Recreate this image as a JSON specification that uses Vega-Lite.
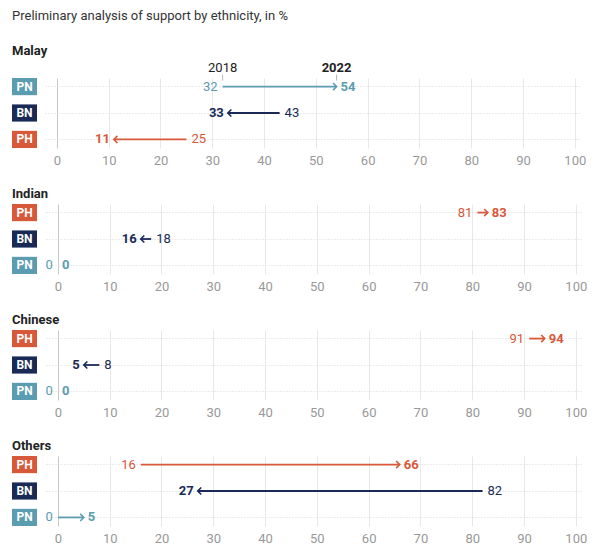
{
  "$schema": "https://vega.github.io/schema/vega-lite/v6.json",
  "padding": {"left": 12, "top": 9, "right": 5, "bottom": 5},
  "title": {"text": "Preliminary analysis of support by ethnicity, in %", "anchor": "start", "fontSize": 13, "fontWeight": "normal", "color": "#333", "offset": 22},
  "config": {
    "font": "Roboto",
    "view": {"stroke": null},
    "concat": {"spacing": 21},
    "title": {"font": "Roboto"},
    "text": {"font": "Roboto", "fontSize": 13}
  },
  "datasets": {
    "support": [
      {"eth": "Malay", "party": "PN", "y2018": 32, "y2022": 54},
      {"eth": "Malay", "party": "BN", "y2018": 43, "y2022": 33},
      {"eth": "Malay", "party": "PH", "y2018": 25, "y2022": 11},
      {"eth": "Indian", "party": "PH", "y2018": 81, "y2022": 83},
      {"eth": "Indian", "party": "BN", "y2018": 18, "y2022": 16},
      {"eth": "Indian", "party": "PN", "y2018": 0, "y2022": 0},
      {"eth": "Chinese", "party": "PH", "y2018": 91, "y2022": 94},
      {"eth": "Chinese", "party": "BN", "y2018": 8, "y2022": 5},
      {"eth": "Chinese", "party": "PN", "y2018": 0, "y2022": 0},
      {"eth": "Others", "party": "PH", "y2018": 16, "y2022": 66},
      {"eth": "Others", "party": "BN", "y2018": 82, "y2022": 27},
      {"eth": "Others", "party": "PN", "y2018": 0, "y2022": 5}
    ]
  },
  "data": {"name": "support"},
  "resolve": {"scale": {"y": "independent", "x": "independent"}},
  "vconcat": [
    {
      "title": {"text": "Malay", "anchor": "start", "fontSize": 13, "fontWeight": "bold", "color": "#222", "offset": 4},
      "transform": [{"filter": "datum.eth === 'Malay'"}],
      "spacing": 8,
      "hconcat": [
        {
          "width": 25, "height": 70,
          "layer": [
            {"mark": {"type": "rect"}, "encoding": {"y": {"field": "party", "type": "nominal", "sort": ["PN", "BN", "PH"], "axis": null, "scale": {"paddingInner": 0.35, "paddingOuter": 0}}, "color": {"field": "party", "type": "nominal", "scale": {"domain": ["PN", "BN", "PH"], "range": ["#5b9cb0", "#1a2a57", "#d8583a"]}, "legend": null}}},
            {"mark": {"type": "text", "color": "white", "fontWeight": "bold", "fontSize": 12}, "encoding": {"y": {"field": "party", "type": "nominal", "sort": ["PN", "BN", "PH"]}, "text": {"field": "party"}}}
          ]
        },
        {
          "width": 536, "height": 70,
          "encoding": {
            "y": {"field": "party", "type": "nominal", "sort": ["PN", "BN", "PH"], "scale": {"paddingInner": 0.35, "paddingOuter": 0}, "axis": {"title": null, "labels": false, "ticks": false, "domain": false, "grid": true, "gridDash": [1, 2], "gridColor": "#d8d8d8", "bandPosition": 0.5}},
            "color": {"field": "party", "type": "nominal", "scale": {"domain": ["PN", "BN", "PH"], "range": ["#5b9cb0", "#1a2a57", "#d8583a"]}, "legend": null}
          },
          "layer": [
            {"transform": [{"filter": "datum.y2018 !== datum.y2022"}], "mark": {"type": "rule", "strokeWidth": 1.8}, "encoding": {"x": {"field": "y2018", "type": "quantitative", "scale": {"domain": [-2.3, 101.2], "nice": false, "zero": false}, "axis": {"title": null, "values": [0, 10, 20, 30, 40, 50, 60, 70, 80, 90, 100], "grid": true, "gridColor": {"condition": {"test": "datum.value === 0", "value": "#c8c8c8"}, "value": "#e8e8e8"}, "domain": false, "ticks": false, "labelColor": "#999", "labelFontSize": 13, "labelPadding": 6, "labelFont": "Roboto"}}, "x2": {"field": "y2022"}}},
            {"transform": [{"filter": "datum.y2018 !== datum.y2022"}], "mark": {"type": "point", "filled": false, "strokeWidth": 1.6, "size": 50, "opacity": 1}, "encoding": {"x": {"field": "y2022", "type": "quantitative"}, "shape": {"condition": {"test": "datum.y2022 > datum.y2018", "value": "M-1,-1L0,0L-1,1"}, "value": "M1,-1L0,0L1,1"}}},
            {"transform": [{"filter": "datum.y2022 >= datum.y2018"}], "mark": {"type": "text", "align": "right", "dx": -5}, "encoding": {"x": {"field": "y2018", "type": "quantitative"}, "text": {"field": "y2018"}}},
            {"transform": [{"filter": "datum.y2022 < datum.y2018"}], "mark": {"type": "text", "align": "left", "dx": 5}, "encoding": {"x": {"field": "y2018", "type": "quantitative"}, "text": {"field": "y2018"}}},
            {"transform": [{"filter": "datum.y2022 >= datum.y2018"}], "mark": {"type": "text", "align": "left", "dx": 4, "fontWeight": "bold"}, "encoding": {"x": {"field": "y2022", "type": "quantitative"}, "text": {"field": "y2022"}}},
            {"transform": [{"filter": "datum.y2022 < datum.y2018"}], "mark": {"type": "text", "align": "right", "dx": -4, "fontWeight": "bold"}, "encoding": {"x": {"field": "y2022", "type": "quantitative"}, "text": {"field": "y2022"}}},
            {"transform": [{"filter": "datum.party === 'PN'"}], "mark": {"type": "text", "dy": -19, "color": "#222"}, "encoding": {"x": {"field": "y2018", "type": "quantitative"}, "text": {"value": "2018"}, "color": {"value": "#222"}}},
            {"transform": [{"filter": "datum.party === 'PN'"}], "mark": {"type": "text", "dy": -19, "fontWeight": "bold"}, "encoding": {"x": {"field": "y2022", "type": "quantitative"}, "text": {"value": "2022"}, "color": {"value": "#222"}}},
            {"transform": [{"filter": "datum.party === 'PN'"}], "mark": {"type": "tick", "orient": "vertical", "size": 6, "thickness": 1, "yOffset": -9}, "encoding": {"x": {"field": "y2018", "type": "quantitative"}, "color": {"value": "#999"}}},
            {"transform": [{"filter": "datum.party === 'PN'"}], "mark": {"type": "tick", "orient": "vertical", "size": 6, "thickness": 1, "yOffset": -9}, "encoding": {"x": {"field": "y2022", "type": "quantitative"}, "color": {"value": "#999"}}}
          ]
        }
      ]
    },
    {
      "title": {"text": "Indian", "anchor": "start", "fontSize": 13, "fontWeight": "bold", "color": "#222", "offset": 3},
      "transform": [{"filter": "datum.eth === 'Indian'"}],
      "spacing": 8,
      "hconcat": [
        {
          "width": 25, "height": 70,
          "layer": [
            {"mark": {"type": "rect"}, "encoding": {"y": {"field": "party", "type": "nominal", "sort": ["PH", "BN", "PN"], "axis": null, "scale": {"paddingInner": 0.35, "paddingOuter": 0}}, "color": {"field": "party", "type": "nominal", "scale": {"domain": ["PN", "BN", "PH"], "range": ["#5b9cb0", "#1a2a57", "#d8583a"]}, "legend": null}}},
            {"mark": {"type": "text", "color": "white", "fontWeight": "bold", "fontSize": 12}, "encoding": {"y": {"field": "party", "type": "nominal", "sort": ["PH", "BN", "PN"]}, "text": {"field": "party"}}}
          ]
        },
        {
          "width": 536, "height": 70,
          "encoding": {
            "y": {"field": "party", "type": "nominal", "sort": ["PH", "BN", "PN"], "scale": {"paddingInner": 0.35, "paddingOuter": 0}, "axis": {"title": null, "labels": false, "ticks": false, "domain": false, "grid": true, "gridDash": [1, 2], "gridColor": "#d8d8d8", "bandPosition": 0.5}},
            "color": {"field": "party", "type": "nominal", "scale": {"domain": ["PN", "BN", "PH"], "range": ["#5b9cb0", "#1a2a57", "#d8583a"]}, "legend": null}
          },
          "layer": [
            {"transform": [{"filter": "datum.y2018 !== datum.y2022"}], "mark": {"type": "rule", "strokeWidth": 1.8}, "encoding": {"x": {"field": "y2018", "type": "quantitative", "scale": {"domain": [-2.3, 101.2], "nice": false, "zero": false}, "axis": {"title": null, "values": [0, 10, 20, 30, 40, 50, 60, 70, 80, 90, 100], "grid": true, "gridColor": {"condition": {"test": "datum.value === 0", "value": "#c8c8c8"}, "value": "#e8e8e8"}, "domain": false, "ticks": false, "labelColor": "#999", "labelFontSize": 13, "labelPadding": 6, "labelFont": "Roboto"}}, "x2": {"field": "y2022"}}},
            {"transform": [{"filter": "datum.y2018 !== datum.y2022"}], "mark": {"type": "point", "filled": false, "strokeWidth": 1.6, "size": 50, "opacity": 1}, "encoding": {"x": {"field": "y2022", "type": "quantitative"}, "shape": {"condition": {"test": "datum.y2022 > datum.y2018", "value": "M-1,-1L0,0L-1,1"}, "value": "M1,-1L0,0L1,1"}}},
            {"transform": [{"filter": "datum.y2022 >= datum.y2018"}], "mark": {"type": "text", "align": "right", "dx": -5}, "encoding": {"x": {"field": "y2018", "type": "quantitative"}, "text": {"field": "y2018"}}},
            {"transform": [{"filter": "datum.y2022 < datum.y2018"}], "mark": {"type": "text", "align": "left", "dx": 5}, "encoding": {"x": {"field": "y2018", "type": "quantitative"}, "text": {"field": "y2018"}}},
            {"transform": [{"filter": "datum.y2022 >= datum.y2018"}], "mark": {"type": "text", "align": "left", "dx": 4, "fontWeight": "bold"}, "encoding": {"x": {"field": "y2022", "type": "quantitative"}, "text": {"field": "y2022"}}},
            {"transform": [{"filter": "datum.y2022 < datum.y2018"}], "mark": {"type": "text", "align": "right", "dx": -4, "fontWeight": "bold"}, "encoding": {"x": {"field": "y2022", "type": "quantitative"}, "text": {"field": "y2022"}}}
          ]
        }
      ]
    },
    {
      "title": {"text": "Chinese", "anchor": "start", "fontSize": 13, "fontWeight": "bold", "color": "#222", "offset": 3},
      "transform": [{"filter": "datum.eth === 'Chinese'"}],
      "spacing": 8,
      "hconcat": [
        {
          "width": 25, "height": 70,
          "layer": [
            {"mark": {"type": "rect"}, "encoding": {"y": {"field": "party", "type": "nominal", "sort": ["PH", "BN", "PN"], "axis": null, "scale": {"paddingInner": 0.35, "paddingOuter": 0}}, "color": {"field": "party", "type": "nominal", "scale": {"domain": ["PN", "BN", "PH"], "range": ["#5b9cb0", "#1a2a57", "#d8583a"]}, "legend": null}}},
            {"mark": {"type": "text", "color": "white", "fontWeight": "bold", "fontSize": 12}, "encoding": {"y": {"field": "party", "type": "nominal", "sort": ["PH", "BN", "PN"]}, "text": {"field": "party"}}}
          ]
        },
        {
          "width": 536, "height": 70,
          "encoding": {
            "y": {"field": "party", "type": "nominal", "sort": ["PH", "BN", "PN"], "scale": {"paddingInner": 0.35, "paddingOuter": 0}, "axis": {"title": null, "labels": false, "ticks": false, "domain": false, "grid": true, "gridDash": [1, 2], "gridColor": "#d8d8d8", "bandPosition": 0.5}},
            "color": {"field": "party", "type": "nominal", "scale": {"domain": ["PN", "BN", "PH"], "range": ["#5b9cb0", "#1a2a57", "#d8583a"]}, "legend": null}
          },
          "layer": [
            {"transform": [{"filter": "datum.y2018 !== datum.y2022"}], "mark": {"type": "rule", "strokeWidth": 1.8}, "encoding": {"x": {"field": "y2018", "type": "quantitative", "scale": {"domain": [-2.3, 101.2], "nice": false, "zero": false}, "axis": {"title": null, "values": [0, 10, 20, 30, 40, 50, 60, 70, 80, 90, 100], "grid": true, "gridColor": {"condition": {"test": "datum.value === 0", "value": "#c8c8c8"}, "value": "#e8e8e8"}, "domain": false, "ticks": false, "labelColor": "#999", "labelFontSize": 13, "labelPadding": 6, "labelFont": "Roboto"}}, "x2": {"field": "y2022"}}},
            {"transform": [{"filter": "datum.y2018 !== datum.y2022"}], "mark": {"type": "point", "filled": false, "strokeWidth": 1.6, "size": 50, "opacity": 1}, "encoding": {"x": {"field": "y2022", "type": "quantitative"}, "shape": {"condition": {"test": "datum.y2022 > datum.y2018", "value": "M-1,-1L0,0L-1,1"}, "value": "M1,-1L0,0L1,1"}}},
            {"transform": [{"filter": "datum.y2022 >= datum.y2018"}], "mark": {"type": "text", "align": "right", "dx": -5}, "encoding": {"x": {"field": "y2018", "type": "quantitative"}, "text": {"field": "y2018"}}},
            {"transform": [{"filter": "datum.y2022 < datum.y2018"}], "mark": {"type": "text", "align": "left", "dx": 5}, "encoding": {"x": {"field": "y2018", "type": "quantitative"}, "text": {"field": "y2018"}}},
            {"transform": [{"filter": "datum.y2022 >= datum.y2018"}], "mark": {"type": "text", "align": "left", "dx": 4, "fontWeight": "bold"}, "encoding": {"x": {"field": "y2022", "type": "quantitative"}, "text": {"field": "y2022"}}},
            {"transform": [{"filter": "datum.y2022 < datum.y2018"}], "mark": {"type": "text", "align": "right", "dx": -4, "fontWeight": "bold"}, "encoding": {"x": {"field": "y2022", "type": "quantitative"}, "text": {"field": "y2022"}}}
          ]
        }
      ]
    },
    {
      "title": {"text": "Others", "anchor": "start", "fontSize": 13, "fontWeight": "bold", "color": "#222", "offset": 3},
      "transform": [{"filter": "datum.eth === 'Others'"}],
      "spacing": 8,
      "hconcat": [
        {
          "width": 25, "height": 70,
          "layer": [
            {"mark": {"type": "rect"}, "encoding": {"y": {"field": "party", "type": "nominal", "sort": ["PH", "BN", "PN"], "axis": null, "scale": {"paddingInner": 0.35, "paddingOuter": 0}}, "color": {"field": "party", "type": "nominal", "scale": {"domain": ["PN", "BN", "PH"], "range": ["#5b9cb0", "#1a2a57", "#d8583a"]}, "legend": null}}},
            {"mark": {"type": "text", "color": "white", "fontWeight": "bold", "fontSize": 12}, "encoding": {"y": {"field": "party", "type": "nominal", "sort": ["PH", "BN", "PN"]}, "text": {"field": "party"}}}
          ]
        },
        {
          "width": 536, "height": 70,
          "encoding": {
            "y": {"field": "party", "type": "nominal", "sort": ["PH", "BN", "PN"], "scale": {"paddingInner": 0.35, "paddingOuter": 0}, "axis": {"title": null, "labels": false, "ticks": false, "domain": false, "grid": true, "gridDash": [1, 2], "gridColor": "#d8d8d8", "bandPosition": 0.5}},
            "color": {"field": "party", "type": "nominal", "scale": {"domain": ["PN", "BN", "PH"], "range": ["#5b9cb0", "#1a2a57", "#d8583a"]}, "legend": null}
          },
          "layer": [
            {"transform": [{"filter": "datum.y2018 !== datum.y2022"}], "mark": {"type": "rule", "strokeWidth": 1.8}, "encoding": {"x": {"field": "y2018", "type": "quantitative", "scale": {"domain": [-2.3, 101.2], "nice": false, "zero": false}, "axis": {"title": null, "values": [0, 10, 20, 30, 40, 50, 60, 70, 80, 90, 100], "grid": true, "gridColor": {"condition": {"test": "datum.value === 0", "value": "#c8c8c8"}, "value": "#e8e8e8"}, "domain": false, "ticks": false, "labelColor": "#999", "labelFontSize": 13, "labelPadding": 6, "labelFont": "Roboto"}}, "x2": {"field": "y2022"}}},
            {"transform": [{"filter": "datum.y2018 !== datum.y2022"}], "mark": {"type": "point", "filled": false, "strokeWidth": 1.6, "size": 50, "opacity": 1}, "encoding": {"x": {"field": "y2022", "type": "quantitative"}, "shape": {"condition": {"test": "datum.y2022 > datum.y2018", "value": "M-1,-1L0,0L-1,1"}, "value": "M1,-1L0,0L1,1"}}},
            {"transform": [{"filter": "datum.y2022 >= datum.y2018"}], "mark": {"type": "text", "align": "right", "dx": -5}, "encoding": {"x": {"field": "y2018", "type": "quantitative"}, "text": {"field": "y2018"}}},
            {"transform": [{"filter": "datum.y2022 < datum.y2018"}], "mark": {"type": "text", "align": "left", "dx": 5}, "encoding": {"x": {"field": "y2018", "type": "quantitative"}, "text": {"field": "y2018"}}},
            {"transform": [{"filter": "datum.y2022 >= datum.y2018"}], "mark": {"type": "text", "align": "left", "dx": 4, "fontWeight": "bold"}, "encoding": {"x": {"field": "y2022", "type": "quantitative"}, "text": {"field": "y2022"}}},
            {"transform": [{"filter": "datum.y2022 < datum.y2018"}], "mark": {"type": "text", "align": "right", "dx": -4, "fontWeight": "bold"}, "encoding": {"x": {"field": "y2022", "type": "quantitative"}, "text": {"field": "y2022"}}}
          ]
        }
      ]
    }
  ]
}
